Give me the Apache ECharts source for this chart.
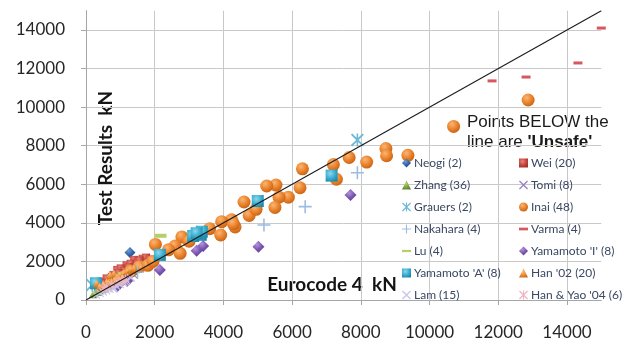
<!DOCTYPE html>
<html><head><meta charset="utf-8">
<script src="https://cdn.jsdelivr.net/npm/echarts@6/dist/echarts.min.js"></script>
<style>html,body{margin:0;padding:0;background:#fff}#c{width:639px;height:342px}</style>
</head><body><div id="c"></div>
<script>
// ---- tick labels / axis range ----
const tickValues = [0, 2000, 4000, 6000, 8000, 10000, 12000, 14000];
const axisMax = 15000;
const refLine = [[0, 0], [15000, 15000]];

// ---- series data: [Eurocode 4 kN, Test result kN] ----
const neogi = [[1280, 2460], [560, 700]];
const wei = [[1400, 2080], [1650, 2140], [1750, 2200], [1180, 1800], [1300, 1880], [910, 1560], [1010, 1640], [670, 1040], [460, 950], [600, 1120], [800, 1300], [1100, 1500], [1500, 1950], [1560, 2050], [350, 700], [500, 850], [750, 1200], [1250, 1700], [950, 1400], [1850, 2100]];
const zhang = [[300, 480], [420, 620], [520, 700], [600, 820], [700, 900], [780, 1050], [850, 1000], [950, 1150], [1050, 1250], [1150, 1350], [1250, 1450], [400, 500], [650, 750], [900, 950], [1000, 1100], [1200, 1250], [550, 600], [750, 850], [350, 420], [480, 560], [1100, 1180], [1300, 1400], [1400, 1500], [830, 900], [250, 350], [200, 300], [680, 820], [880, 1080], [1020, 1180], [1180, 1300], [1350, 1550], [450, 650], [580, 760], [760, 980], [980, 1220], [1120, 1280]];
const tomi = [[1190, 1040], [1000, 950], [1300, 1150], [900, 780], [1100, 900], [1400, 1300], [800, 700], [1250, 1200]];
const grauers = [[7900, 8300], [180, 780]];
const inai = [[10700, 9000], [12870, 10370], [9370, 7500], [8730, 7850], [8750, 7480], [8170, 7150], [7660, 7390], [7200, 7020], [7290, 6260], [6300, 6800], [6230, 5820], [5890, 5330], [5620, 5330], [5500, 4800], [5530, 5960], [5260, 5910], [4600, 5080], [4750, 4380], [4950, 4700], [4340, 3790], [4240, 4160], [3950, 4060], [3920, 3370], [2020, 2880], [2790, 3270], [2590, 2800], [2740, 2420], [4290, 3950], [1550, 1730], [1800, 1800], [1300, 1500], [1000, 1050], [1950, 2000], [2400, 2600], [3000, 3050], [3600, 3700], [1150, 1250], [850, 950]];
const nakahara = [[7900, 6600], [6380, 4840], [5180, 3890], [1500, 1450]];
const varma = [[11820, 11360], [12810, 11560], [14320, 12290], [15000, 14100]];
const lu = [[2170, 3330], [800, 1200], [1100, 1350], [500, 750]];
const yamamotoI = [[7700, 5440], [5020, 2760], [3410, 2800], [3220, 2550], [2150, 1560], [1200, 1000], [900, 700]];
const yamamotoA = [[7150, 6450], [5000, 5130], [3340, 3380], [3120, 3320], [3370, 3540], [2150, 2340], [3220, 3460], [290, 870]];
const han02 = [[720, 1130], [815, 1380], [700, 1290], [310, 870], [900, 1200], [1000, 1300], [600, 950], [500, 800], [1100, 1400], [1200, 1500], [400, 700], [850, 1050], [950, 1100], [1300, 1600], [1400, 1650], [650, 900], [550, 650], [750, 950], [1050, 1150], [1600, 1700]];
const lam = [[815, 620], [1000, 800], [1190, 1000], [900, 700], [408, 347], [795, 600], [600, 480], [700, 560], [500, 420], [1100, 900], [650, 600], [950, 850], [1150, 950], [300, 260], [1300, 1150]];
const hanYao = [[600, 700], [750, 800], [900, 950], [1050, 1000], [500, 600], [1150, 1100]];

const seriesNames = ['Neogi (2)', 'Wei (20)', 'Zhang (36)', 'Tomi (8)', 'Grauers (2)', 'Inai (48)', 'Nakahara (4)', 'Varma (4)', 'Lu (4)', "Yamamoto 'I' (8)", "Yamamoto 'A' (8)", "Han '02 (20)", 'Lam (15)', "Han & Yao '04 (6)"];
const leftCol = ['Neogi (2)', 'Zhang (36)', 'Grauers (2)', 'Nakahara (4)', 'Lu (4)', "Yamamoto 'A' (8)", 'Lam (15)'];
const rightCol = ['Wei (20)', 'Tomi (8)', 'Inai (48)', 'Varma (4)', "Yamamoto 'I' (8)", "Han '02 (20)", "Han & Yao '04 (6)"];

const X_PATH = 'path://M0,1L1,0L5,4L9,0L10,1L6,5L10,9L9,10L5,6L1,10L0,9L4,5Z';
const PLUS_PATH = 'path://M4.4,0H5.6V4.4H10V5.6H5.6V10H4.4V5.6H0V4.4H4.4Z';
const STAR_PATH = 'path://M0,1L1,0L4.4,3.4V0H5.6V3.4L9,0L10,1L6,5L10,9L9,10L5.6,6.6V10H4.4V6.6L1,10L0,9L4,5Z';

function radial(c1, c2, c3) {
  return new echarts.graphic.RadialGradient(0.38, 0.32, 0.75, [
    {offset: 0, color: c1}, {offset: 0.55, color: c2}, {offset: 1, color: c3}]);
}

const styles = [
  {d: neogi, s: 'diamond', z: 11, c: radial('#6F9BD6', '#2F62A8', '#1F4880')},
  {d: wei, s: 'rect', z: 8, c: radial('#E48580', '#C9463F', '#9E2F2A')},
  {d: zhang, s: 'triangle', z: 8, c: radial('#B3D37A', '#7FA63F', '#5E7F2A')},
  {d: tomi, s: X_PATH, z: 8, c: '#9880C4'},
  {d: grauers, s: STAR_PATH, z: 13, c: '#6DB9D6'},
  {d: inai, s: 'circle', z: 13, c: radial('#FBB673', '#E9812B', '#C45F12')},
  {d: nakahara, s: PLUS_PATH, z: 13, c: '#9DBBE0'},
  {d: varma, s: 'rect', z: [9, 3], c: '#D6585E'},
  {d: lu, s: 'rect', z: [12, 4], c: '#B5CF6A'},
  {d: yamamotoI, s: 'diamond', z: 12, c: radial('#B194DA', '#7B55B3', '#5A3B8A')},
  {d: yamamotoA, s: 'rect', z: 12, c: radial('#8FD6EC', '#3BAED0', '#1E86A6')},
  {d: han02, s: 'triangle', z: 8, c: radial('#FBC27E', '#EE8E34', '#C8691A')},
  {d: lam, s: X_PATH, z: 8, c: '#C9C6E6'},
  {d: hanYao, s: STAR_PATH, z: 8, c: '#F2B4C2'}
];

const series = styles.map((st, i) => ({
  name: seriesNames[i], type: 'scatter', data: st.d,
  symbol: st.s, symbolSize: st.z,
  itemStyle: {color: st.c, opacity: 1},
  emphasis: {disabled: true}, animation: false
}));
series.push({
  type: 'line', data: refLine, symbol: 'none', silent: true, z: 5,
  lineStyle: {color: '#1b1b1b', width: 1.1}, animation: false
});

function legendItems(arr) {
  return arr.map(n => {
    if (n === 'Varma (4)') return {name: n, icon: 'path://M0,0H10V3H0Z'};
    if (n === 'Lu (4)') return {name: n, icon: 'path://M0,0H12V3H0Z'};
    return {name: n};
  });
}
const legendBase = {
  orient: 'vertical', top: 157, itemGap: 10, itemWidth: 9, itemHeight: 9,
  selectedMode: false, padding: 0,
  textStyle: {fontFamily: 'Lato', fontSize: 12, color: '#3A4863', padding: [0, 0, 0, -2]}
};

const axisCommon = {
  type: 'value', min: 0, max: axisMax, interval: 2000,
  axisLine: {show: true, lineStyle: {color: '#A6A6A6', width: 1}},
  axisTick: {show: true, length: 5, lineStyle: {color: '#A6A6A6'}},
  splitLine: {show: true, showMaxLine: false, lineStyle: {color: '#C9C9C9', width: 1}},
  axisLabel: {
    fontFamily: 'Lato', fontSize: 17, color: '#262626', showMaxLabel: false,
    formatter: v => tickValues.indexOf(v) >= 0 ? String(v) : ''
  }
};

const chart = echarts.init(document.getElementById('c'), null, {renderer: 'canvas'});
chart.setOption({
  animation: false,
  backgroundColor: '#ffffff',
  grid: {left: 86, right: 37.7, top: 10.7, bottom: 42, containLabel: false},
  xAxis: Object.assign({}, axisCommon, {axisLabel: Object.assign({}, axisCommon.axisLabel, {margin: 24})}),
  yAxis: Object.assign({}, axisCommon, {axisLabel: Object.assign({}, axisCommon.axisLabel, {margin: 21})}),
  legend: [
    Object.assign({}, legendBase, {left: 402, data: legendItems(leftCol)}),
    Object.assign({}, legendBase, {left: 519, data: legendItems(rightCol)})
  ],
  graphic: [
    {type: 'text', x: 106, y: 158, rotation: Math.PI / 2, silent: true,
     style: {text: 'Test Results  kN', font: 'bold 19px Lato', fill: '#141414', align: 'center', verticalAlign: 'middle'}},
    {type: 'text', x: 332, y: 285, silent: true,
     style: {text: 'Eurocode 4  kN', font: 'bold 19px Lato', fill: '#141414', align: 'center', verticalAlign: 'middle'}},
    {type: 'text', x: 467, y: 112, silent: true,
     style: {text: "Points BELOW the\nline are {b|'Unsafe'}", font: '17px "Liberation Sans"', fill: '#1a1a1a',
             lineHeight: 20, align: 'left', verticalAlign: 'top',
             rich: {b: {fontWeight: 'bold', fontSize: 17, fontFamily: 'Liberation Sans', fill: '#1a1a1a', lineHeight: 20}}}}
  ],
  series: series
});
</script>
</body></html>
